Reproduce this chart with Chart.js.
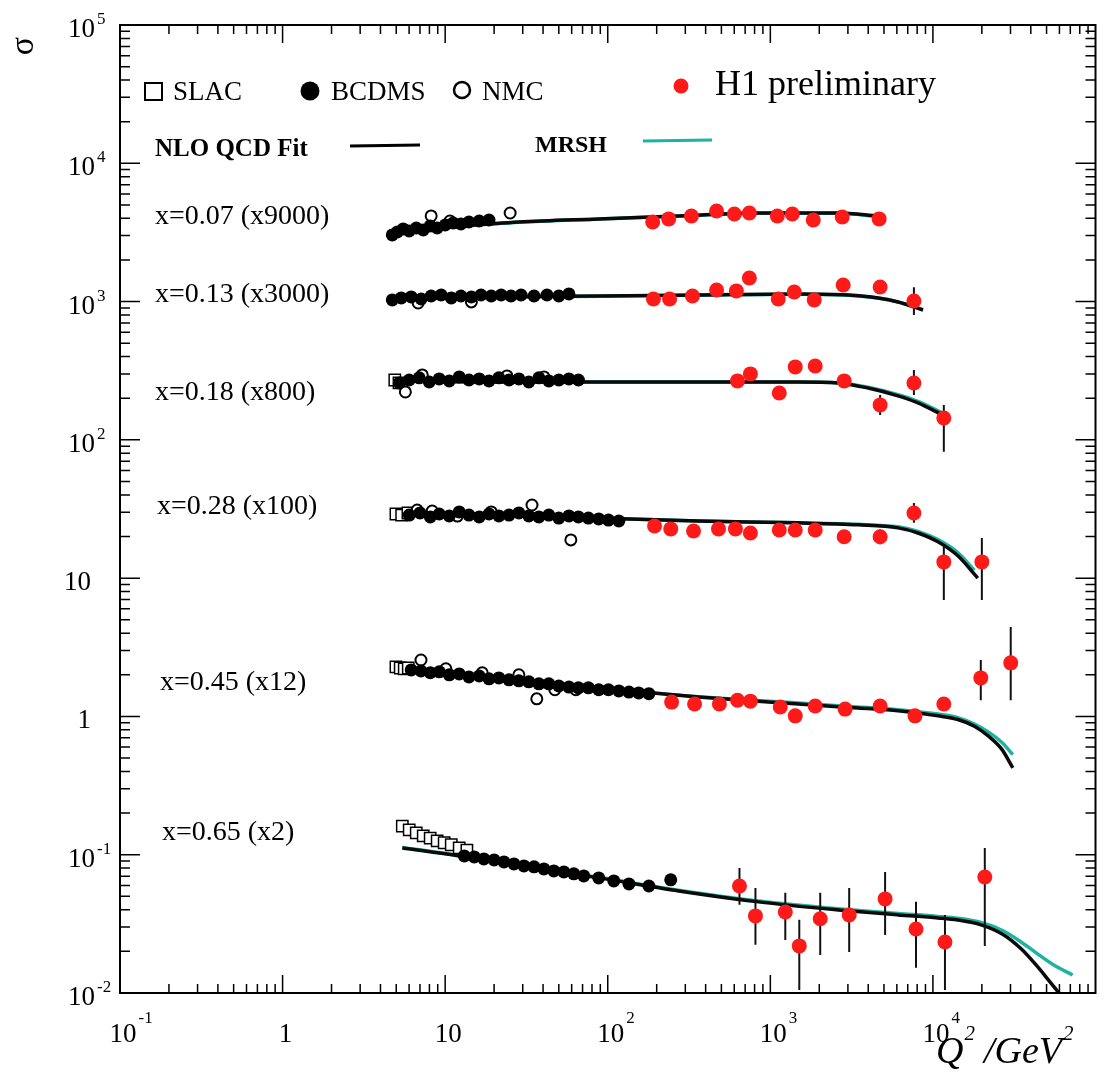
<!DOCTYPE html>
<html>
<head>
<meta charset="utf-8">
<script src="https://cdn.jsdelivr.net/npm/chart.js@4.4.0/dist/chart.umd.min.js"></script>
<style>
html, body { margin: 0; padding: 0; background: #fff; }
canvas { display: block; }
</style>
</head>
<body>
<canvas id="sigmaChart" width="1105" height="1075"></canvas>
<script>
// axis ticks (log scales)
const xDecades = [0.1, 1, 10, 100, 1000, 10000];
const xTickBase = ['10', '1', '10', '10', '10', '10'];
const xTickExp = ['-1', '', '', '2', '3', '4'];
const yDecades = [100000, 10000, 1000, 100, 10, 1, 0.1, 0.01];
const yTickBase = ['10', '10', '10', '10', '10', '1', '10', '10'];
const yTickExp = ['5', '4', '3', '2', '', '', '-1', '-2'];

const seriesNames = ['SLAC', 'BCDMS', 'NMC', 'H1 preliminary', 'NLO QCD Fit', 'MRSH'];
const binLabels = ['x=0.07 (x9000)', 'x=0.13 (x3000)', 'x=0.18 (x800)', 'x=0.28 (x100)', 'x=0.45 (x12)', 'x=0.65 (x2)'];

// [Q2, sigma] pairs, H1 as [Q2, sigma, low, high]
// x = 0.07
const fit007 = [[4.53,3190],[10.6,3460],[28.4,3760],[88,3960],[273,4160],[844,4370],[2610,4370],[4600,4160]];
const mrsh007 = [[4.53,3180],[10.6,3450],[28.4,3750],[88,3950],[273,4150],[844,4360],[2610,4350],[4600,4130]];
const bcdms007 = [[4.73,3033],[5.08,3187],[5.52,3350],[6.01,3243],[6.64,3405],[7.33,3295],[8.09,3522],[8.93,3405],[10.0,3580],[11.2,3700],[12.5,3640],[14.0,3763],[16.2,3825],[18.6,3890]];
const nmc007 = [[8.2,4160],[10.7,3825],[25.1,4370]];
const h1_007 = [[189,3760,3640,3880],[237,3960,3830,4090],[327,4160,4020,4300],[467,4520,4370,4680],[601,4300,4150,4450],[743,4370,4220,4520],[1104,4160,4000,4320],[1365,4300,4130,4470],[1837,3890,3720,4060],[2768,4090,3900,4290],[4670,3960,3680,4250]];

// x = 0.13
const fit013 = [[4.73,1044],[21.4,1080],[88,1097],[361,1116],[1486,1135],[3013,1116],[4600,1062],[6100,994],[8690,869]];
const mrsh013 = [[4.73,1040],[21.4,1075],[88,1093],[361,1112],[1486,1130],[3013,1112],[4600,1060],[6100,995],[8690,875]];
const bcdms013 = [[4.73,1028],[5.37,1062],[6.18,1080],[7.12,1044],[8.2,1097],[9.45,1116],[10.9,1062],[12.5,1097],[14.5,1080],[16.6,1116],[19.2,1097],[22.1,1116],[25.4,1097],[29.3,1116],[35.2,1097],[42.3,1116],[50,1097],[57.7,1135]];
const nmc013 = [[6.82,977],[14.5,994]];
const h1_013 = [[191,1044,1010,1080],[240,1044,1010,1080],[332,1097,1060,1135],[467,1213,1170,1255],[618,1194,1150,1240],[743,1482,1430,1535],[1119,1044,1000,1090],[1403,1173,1125,1222],[1862,1028,980,1078],[2806,1318,1250,1390],[4735,1276,1200,1356],[7640,1010,800,1270]];

// x = 0.18
const fit018 = [[4.87,267],[21.4,262],[88,262],[361,262],[1486,262],[2612,258],[3990,237],[6100,208],[8090,185],[11500,151]];
const mrsh018 = [[4.87,267],[21.4,262],[88,262],[361,262],[1486,262],[2612,259],[3990,240],[6100,212],[8090,190],[11500,156]];
const slac018 = [[4.9,271],[5.2,258]];
const bcdms018 = [[5.22,258],[6.01,271],[6.92,281],[7.98,262],[9.19,276],[10.6,267],[12.2,285],[14.0,271],[16.2,276],[18.6,267],[21.4,281],[24.7,271],[28.4,276],[32.7,262],[37.7,281],[43.4,267],[50,271],[57.7,276],[66,271]];
const nmc018 = [[5.69,222],[7.23,295],[24.0,290],[40.5,285]];
const h1_018 = [[628,267,252,283],[754,300,284,317],[1135,218,205,232],[1423,337,318,357],[1888,342,322,363],[2845,267,250,285],[4735,179,151,211],[7640,258,211,320],[11670,144,82,179]];

// x = 0.28
const fit028 = [[4.87,29.6],[21.4,28.6],[88,27.2],[361,25.9],[1486,25.1],[3467,24.3],[6100,23.1],[8090,21.2],[10740,18.3],[14230,14.5],[18880,10.0]];
const mrsh028 = [[4.87,29.6],[21.4,28.6],[88,27.2],[361,25.9],[1486,25.1],[3467,24.5],[6100,23.5],[8090,21.8],[10740,19.0],[14230,15.3],[18000,11.4]];
const slac028 = [[4.98,29.1],[5.4,28.6],[5.9,29.6]];
const bcdms028 = [[6.01,28.6],[7.0,29.6],[8.1,27.7],[9.2,29.1],[10.6,28.2],[12.2,30.1],[14.0,28.6],[16.2,27.7],[18.6,29.1],[21.4,28.2],[24.7,28.6],[28.4,29.6],[32.7,28.2],[37.7,27.7],[43.4,28.6],[50,27.2],[57.7,28.2],[66,27.7],[76,27.2],[88,26.8],[101,26.3],[117,25.9]];
const nmc028 = [[6.73,31.1],[8.32,30.6],[11.9,28.1],[19.2,30.1],[34.2,33.8],[59.3,18.9]];
const h1_028 = [[194,23.8,21.5,26.3],[244,22.7,20.8,24.8],[337,21.9,20.0,24.0],[480,22.7,20.8,24.8],[610,22.7,20.4,25.2],[754,21.2,19.2,23.4],[1135,22.3,20.2,24.6],[1423,22.3,20.2,24.6],[1888,22.3,20.0,24.8],[2845,19.9,17.8,22.2],[4735,19.9,17.6,22.5],[7640,29.6,25.1,35.0],[11670,13.1,6.95,17.4],[20000,13.1,6.95,19.5]];

// x = 0.45
const fit045 = [[4.87,2.24],[10.6,2.03],[21.4,1.90],[50,1.72],[117,1.55],[361,1.38],[1486,1.23],[3467,1.15],[6100,1.10],[10740,1.01],[14230,0.95],[18000,0.85],[22000,0.72],[26500,0.58],[31000,0.425]];
const mrsh045 = [[4.87,2.24],[10.6,2.03],[21.4,1.90],[50,1.72],[117,1.56],[361,1.39],[1486,1.25],[3467,1.17],[6100,1.12],[10740,1.04],[14230,0.98],[18000,0.88],[22000,0.77],[26500,0.65],[31000,0.53]];
const slac045 = [[4.98,2.28],[5.29,2.24],[5.6,2.21],[5.93,2.24]];
const bcdms045 = [[6.18,2.17],[7.1,2.13],[8.1,2.07],[9.2,2.10],[10.6,2.00],[12.2,2.03],[14.0,1.93],[16.2,1.96],[18.6,1.87],[21.4,1.90],[24.7,1.84],[28.4,1.81],[32.7,1.78],[37.7,1.72],[43.4,1.72],[50,1.66],[57.7,1.63],[66,1.61],[76,1.61],[88,1.56],[101,1.56],[117,1.53],[135,1.50],[155,1.48],[179,1.46]];
const nmc045 = [[7.1,2.56],[10.1,2.21],[16.9,2.07],[28.4,2.00],[36.6,1.34],[47.3,1.56],[63.7,1.56]];
const h1_045 = [[247,1.27,1.17,1.38],[342,1.23,1.13,1.34],[486,1.23,1.13,1.34],[628,1.31,1.19,1.44],[754,1.29,1.17,1.42],[1151,1.17,1.06,1.29],[1423,1.01,0.90,1.13],[1888,1.19,1.07,1.32],[2884,1.13,1.02,1.25],[4735,1.19,1.07,1.32],[7760,1.01,0.90,1.13],[11670,1.23,1.10,1.38],[19700,1.90,1.31,2.56],[30100,2.44,1.31,4.44]];

// x = 0.65
const fit065 = [[5.45,0.112],[12.2,0.098],[28.4,0.083],[88,0.068],[273,0.0547],[844,0.0456],[2612,0.0399],[6100,0.0367],[10740,0.0349],[14230,0.0337],[20000,0.0310],[27000,0.0265],[35000,0.0208],[44000,0.0155],[52000,0.0122],[61000,0.0097]];
const mrsh065 = [[5.45,0.113],[12.2,0.0985],[28.4,0.0835],[88,0.0686],[273,0.0553],[844,0.0462],[2612,0.0406],[6100,0.0376],[10740,0.0358],[14230,0.0347],[20000,0.0322],[27000,0.0282],[35000,0.0233],[44000,0.0192],[56000,0.0158],[72300,0.0135]];
const slac065 = [[5.45,0.161],[6.01,0.151],[6.64,0.144],[7.33,0.137],[8.09,0.132],[8.93,0.126],[9.86,0.122],[10.9,0.118],[12.2,0.112],[13.6,0.108]];
const bcdms065 = [[13.1,0.098],[15.1,0.0964],[17.3,0.0933],[20.0,0.0917],[23.0,0.0887],[26.5,0.0858],[30.5,0.083],[35.2,0.0817],[40.5,0.0789],[46.6,0.0764],[53.7,0.0751],[61.8,0.0727],[71.2,0.0703],[88,0.068],[109,0.0646],[135,0.0615],[179,0.0594],[244,0.0658]];
const h1_065 = [[646,0.0594,0.0434,0.0803],[810,0.0361,0.0223,0.0575],[1236,0.0385,0.0242,0.0530],[1507,0.0219,0.0105,0.0338],[2027,0.0344,0.0188,0.0530],[3055,0.0367,0.0198,0.0575],[5080,0.0479,0.0263,0.0751],[7870,0.0290,0.0152,0.0456],[11860,0.0234,0.0105,0.0367],[20850,0.0690,0.0219,0.112]];

const RED = '#ff1a1a';
const TEAL = '#1db3a2';
const FONT = '"Liberation Serif", "DejaVu Serif", serif';

const bins = [
  { fit: fit007, mrsh: mrsh007, slac: [], bcdms: bcdms007, nmc: nmc007, h1: h1_007 },
  { fit: fit013, mrsh: mrsh013, slac: [], bcdms: bcdms013, nmc: nmc013, h1: h1_013 },
  { fit: fit018, mrsh: mrsh018, slac: slac018, bcdms: bcdms018, nmc: nmc018, h1: h1_018 },
  { fit: fit028, mrsh: mrsh028, slac: slac028, bcdms: bcdms028, nmc: nmc028, h1: h1_028 },
  { fit: fit045, mrsh: mrsh045, slac: slac045, bcdms: bcdms045, nmc: nmc045, h1: h1_045 },
  { fit: fit065, mrsh: mrsh065, slac: slac065, bcdms: bcdms065, nmc: [], h1: h1_065 }
];

const pts = arr => arr.map(p => ({ x: p[0], y: p[1] }));
const errPts = arr => {
  const out = [];
  arr.forEach(p => {
    out.push({ x: p[0], y: p[2] });
    out.push({ x: p[0], y: p[3] });
    out.push({ x: p[0], y: null });
  });
  return out;
};

const datasets = [];
bins.forEach(b => {
  datasets.push({ data: pts(b.mrsh), showLine: true, borderColor: TEAL, borderWidth: 3.5,
    pointRadius: 0, cubicInterpolationMode: 'monotone', order: 6 });
  datasets.push({ data: pts(b.fit), showLine: true, borderColor: '#0a0a0a', borderWidth: 3.5,
    pointRadius: 0, cubicInterpolationMode: 'monotone', order: 5 });
  datasets.push({ data: errPts(b.h1), showLine: true, spanGaps: false, borderColor: '#111',
    borderWidth: 2, pointRadius: 0, order: 2 });
  datasets.push({ data: pts(b.slac), pointStyle: 'rect', pointRadius: 8, backgroundColor: '#fff',
    borderColor: '#000', borderWidth: 1.5, order: 4 });
  datasets.push({ data: pts(b.bcdms), pointStyle: 'circle', pointRadius: 6.5, backgroundColor: '#000',
    borderColor: '#000', borderWidth: 0, order: 3 });
  datasets.push({ data: pts(b.nmc), pointStyle: 'circle', pointRadius: 5.5, backgroundColor: '#fff',
    borderColor: '#000', borderWidth: 2, order: 3 });
  datasets.push({ data: pts(b.h1), pointStyle: 'circle', pointRadius: 7.5, backgroundColor: RED,
    borderColor: RED, borderWidth: 0, order: 1 });
});

function supText(ctx, base, exp, x, y, baseSize, expSize, expRise) {
  ctx.font = baseSize + 'px ' + FONT;
  const wb = ctx.measureText(base).width;
  const left = x - wb / 2;
  ctx.textAlign = 'left';
  ctx.fillText(base, left, y);
  if (exp) {
    ctx.font = expSize + 'px ' + FONT;
    ctx.fillText(exp, left + wb + 2, y - expRise);
  }
}

const decorations = {
  id: 'decorations',
  afterDraw(chart) {
    const ctx = chart.ctx;
    const xs = chart.scales.x, ys = chart.scales.y;
    const a = chart.chartArea;
    ctx.save();
    ctx.strokeStyle = '#000';
    ctx.fillStyle = '#000';

    // frame
    ctx.lineWidth = 2;
    ctx.strokeRect(a.left, a.top, a.right - a.left, a.bottom - a.top);

    // inward ticks on all four sides
    ctx.lineWidth = 1.5;
    ctx.beginPath();
    xDecades.forEach(d => {
      for (let m = 1; m <= 9; m++) {
        const v = d * m;
        if (v >= xs.max) break;
        const px = xs.getPixelForValue(v);
        const len = m === 1 ? 18 : 9;
        ctx.moveTo(px, a.bottom); ctx.lineTo(px, a.bottom - len);
        ctx.moveTo(px, a.top); ctx.lineTo(px, a.top + len);
      }
    });
    yDecades.forEach(d => {
      for (let m = 1; m <= 9; m++) {
        const v = d * m;
        if (v >= ys.max) break;
        const py = ys.getPixelForValue(v);
        const len = m === 1 ? 20 : 10;
        ctx.moveTo(a.left, py); ctx.lineTo(a.left + len, py);
        ctx.moveTo(a.right, py); ctx.lineTo(a.right - len, py);
      }
    });
    ctx.stroke();

    // tick labels
    ctx.textBaseline = 'alphabetic';
    xDecades.forEach((v, i) => {
      const px = xs.getPixelForValue(v);
      supText(ctx, xTickBase[i], xTickExp[i], px + 3, a.bottom + 49, 27, 17, 19);
    });
    yDecades.forEach((v, i) => {
      const py = ys.getPixelForValue(v);
      const exp = yTickExp[i];
      ctx.font = '27px ' + FONT;
      const wb = ctx.measureText(yTickBase[i]).width;
      const left = exp ? 95 - wb : 91 - wb;
      ctx.textAlign = 'left';
      ctx.fillText(yTickBase[i], left, py + 12);
      if (exp) {
        ctx.font = '17px ' + FONT;
        ctx.fillText(exp, 97, py - 1);
      }
    });

    // axis titles
    ctx.save();
    ctx.translate(24, 46);
    ctx.rotate(-Math.PI / 2);
    ctx.font = '34px ' + FONT;
    ctx.textAlign = 'center';
    ctx.textBaseline = 'middle';
    ctx.fillText('σ', 0, 0);
    ctx.restore();

    ctx.textAlign = 'left';
    ctx.font = 'italic 38px ' + FONT;
    let tx = 936;
    ctx.fillText('Q', tx, 1063);
    tx += ctx.measureText('Q').width + 1;
    ctx.font = 'italic 21px ' + FONT;
    ctx.fillText('2', tx, 1040);
    tx += ctx.measureText('2').width + 9;
    ctx.font = 'italic 38px ' + FONT;
    ctx.fillText('/GeV', tx, 1063);
    tx += ctx.measureText('/GeV').width + 1;
    ctx.font = 'italic 21px ' + FONT;
    ctx.fillText('2', tx, 1040);

    // legend
    ctx.lineWidth = 2;
    ctx.fillStyle = '#fff';
    ctx.fillRect(145, 83, 17, 17);
    ctx.strokeRect(145, 83, 17, 17);
    ctx.fillStyle = '#000';
    ctx.beginPath(); ctx.arc(310, 91, 9.5, 0, Math.PI * 2); ctx.fill();
    ctx.lineWidth = 2.5;
    ctx.beginPath(); ctx.arc(462, 90, 8, 0, Math.PI * 2); ctx.stroke();
    ctx.fillStyle = RED;
    ctx.beginPath(); ctx.arc(681, 86, 7.5, 0, Math.PI * 2); ctx.fill();
    ctx.fillStyle = '#000';
    ctx.font = '27px ' + FONT;
    ctx.fillText(seriesNames[0], 173, 100);
    ctx.fillText(seriesNames[1], 331, 100);
    ctx.fillText(seriesNames[2], 482, 100);
    ctx.font = '36px ' + FONT;
    ctx.fillText(seriesNames[3], 715, 95);
    ctx.font = 'bold 25px ' + FONT;
    ctx.fillText(seriesNames[4], 155, 156);
    ctx.font = 'bold 24px ' + FONT;
    ctx.fillText(seriesNames[5], 535, 152);
    ctx.lineWidth = 3;
    ctx.beginPath(); ctx.moveTo(350, 146); ctx.lineTo(420, 145); ctx.stroke();
    ctx.strokeStyle = TEAL;
    ctx.beginPath(); ctx.moveTo(643, 141); ctx.lineTo(712, 140); ctx.stroke();

    // bin labels
    const labelPos = [[155, 224], [155, 302], [155, 400], [157, 514], [160, 690], [162, 840]];
    ctx.font = '28px ' + FONT;
    ctx.fillStyle = '#000';
    binLabels.forEach((t, i) => ctx.fillText(t, labelPos[i][0], labelPos[i][1]));
    ctx.restore();
  }
};

new Chart(document.getElementById('sigmaChart').getContext('2d'), {
  type: 'scatter',
  data: { datasets: datasets },
  options: {
    responsive: false,
    animation: false,
    devicePixelRatio: 1,
    events: [],
    layout: { padding: { left: 120, top: 25, right: 7, bottom: 82 } },
    plugins: { legend: { display: false }, tooltip: { enabled: false } },
    scales: {
      x: { type: 'logarithmic', min: 0.1, max: 100000, display: false },
      y: { type: 'logarithmic', min: 0.01, max: 100000, display: false }
    }
  },
  plugins: [decorations]
});
</script>
</body>
</html>
